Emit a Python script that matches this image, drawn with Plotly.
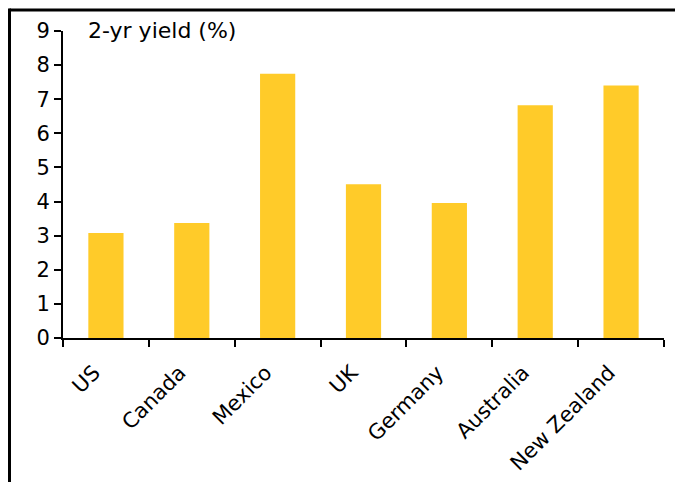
import plotly.graph_objects as go

categories = ["US", "Canada", "Mexico", "UK", "Germany", "Australia", "New Zealand"]
yields = [3.08, 3.37, 7.75, 4.51, 3.96, 6.82, 7.40]
y_ticks = [0, 1, 2, 3, 4, 5, 6, 7, 8, 9]

W, H = 675, 482
L, R, T, B = 63, 11, 30.5, 143.5
pw, ph = W - L - R, H - T - B

def px_x(px):
    return (px - L) / pw

def px_y(py):
    return (H - B - py) / ph

FONT = "DejaVu Sans, Verdana, sans-serif"
FS = 21

fig = go.Figure(go.Bar(x=categories, y=yields, marker_color="#FFCB29",
                       marker_line_width=0, width=0.41))

fig.update_layout(
    width=W, height=H,
    margin=dict(l=L, r=R, t=T, b=B, autoexpand=False),
    paper_bgcolor="white", plot_bgcolor="white",
    font=dict(family=FONT, size=FS, color="black"),
    showlegend=False,
    bargap=0.59,
    xaxis=dict(showline=True, linecolor="black", linewidth=2,
               ticks="outside", ticklen=7, tickwidth=2, tickcolor="black",
               tickson="boundaries", tickangle=-45, showgrid=False,
               ticklabelstandoff=12, ticklabelshift=-12,
               tickfont=dict(size=FS)),
    yaxis=dict(range=[0, 9], tickvals=y_ticks, showline=True, linecolor="black",
               linewidth=2, ticks="outside", ticklen=7, tickwidth=2,
               tickcolor="black", showgrid=False, zeroline=False,
               tickfont=dict(size=FS)),
    annotations=[dict(text="2-yr yield (%)", xref="paper", yref="paper",
                      x=px_x(86), y=px_y(30), xanchor="left", yanchor="middle",
                      showarrow=False, font=dict(size=22))],
    shapes=[
        dict(type="line", xref="paper", yref="paper", x0=px_x(9.5), x1=px_x(W + 5),
             y0=px_y(9.5), y1=px_y(9.5), line=dict(color="black", width=3)),
        dict(type="line", xref="paper", yref="paper", x0=px_x(9.5), x1=px_x(9.5),
             y0=px_y(8), y1=px_y(H + 5), line=dict(color="black", width=3)),
    ],
)

fig.write_html("out.html")
